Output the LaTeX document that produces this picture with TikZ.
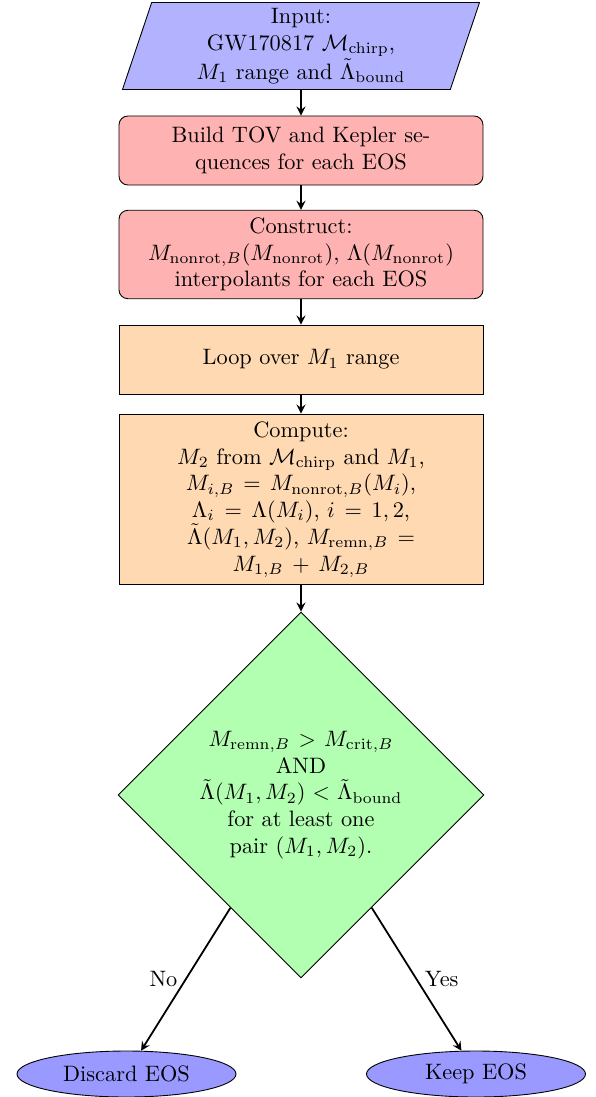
\documentclass[tikz,border=0pt]{standalone}
\usetikzlibrary{shapes.geometric,arrows}
\def\U{0.4484}
\tikzset{
  x=\U pt, y=-\U pt,
  io/.style={trapezium, trapezium left angle=70, trapezium right angle=110,
    trapezium stretches body=true, draw=black, fill=blue!30,
    minimum width=357*\U pt, minimum height=87*\U pt, align=center, inner sep=1pt},
  startbox/.style={rectangle, rounded corners, draw=black, fill=red!30,
    minimum width=364*\U pt, align=center, text width=4.25cm},
  procbox/.style={rectangle, draw=black, fill=orange!30,
    minimum width=364*\U pt, align=center, text width=4.25cm},
  decision/.style={diamond, aspect=1, draw=black, fill=green!30,
    minimum width=366*\U pt, minimum height=366*\U pt, inner sep=0pt,
    align=center, text width=3.4cm},
  endnode/.style={ellipse, draw=black, fill=blue!40,
    minimum width=219*\U pt, minimum height=46*\U pt, inner sep=0pt},
  arrow/.style={thick,->,>=stealth}
}
\begin{document}
\begin{tikzpicture}
\useasboundingbox (0,0) rectangle (595,1097);
\node[io] (in) at (301,46) {Input:\\ GW170817 $\mathcal{M}_{\mathrm{chirp}}$,\\ $M_1$ range and $\tilde{\Lambda}_{\mathrm{bound}}$};
\node[startbox, minimum height=69*\U pt] (b1) at (301,150.5) {Build TOV and Kepler se-\\quences for each EOS};
\node[startbox, minimum height=85*\U pt, text width=5.2cm] (b2) at (301,254.5) {Construct:\\ $M_{\mathrm{nonrot},B}(M_{\mathrm{nonrot}})$, $\Lambda(M_{\mathrm{nonrot}})$\\ interpolants for each EOS};
\node[procbox, minimum height=69*\U pt] (b3) at (301,359.5) {Loop over $M_1$ range};
\node[procbox, minimum height=167*\U pt] (b4) at (301,499.5) {Compute:\\ $M_2$ from $\mathcal{M}_{\mathrm{chirp}}$ and $M_1$,\\ $M_{i,B} = M_{\mathrm{nonrot},B}(M_i)$,\\ $\Lambda_i = \Lambda(M_i)$, $i = 1,2$,\\ $\tilde{\Lambda}(M_1,M_2)$, $M_{\mathrm{remn},B} =$\\ $M_{1,B} + M_{2,B}$};
\node[decision] (dec) at (301,795) {$M_{\mathrm{remn},B} > M_{\mathrm{crit},B}$\\ AND\\ $\tilde{\Lambda}(M_1,M_2) < \tilde{\Lambda}_{\mathrm{bound}}$\\ for at least one\\ pair $(M_1,M_2)$.};
\node[endnode] (discard) at (126.5,1074) {Discard EOS};
\node[endnode] (keep) at (476,1074) {Keep EOS};
\draw[arrow] (in) -- (b1);
\draw[arrow] (b1) -- (b2);
\draw[arrow] (b2) -- (b3);
\draw[arrow] (b3) -- (b4);
\draw[arrow] (b4) -- (dec);
\draw[arrow] (dec) -- node[left] {No} (discard);
\draw[arrow] (dec) -- node[right] {Yes} (keep);
\end{tikzpicture}
\end{document}
